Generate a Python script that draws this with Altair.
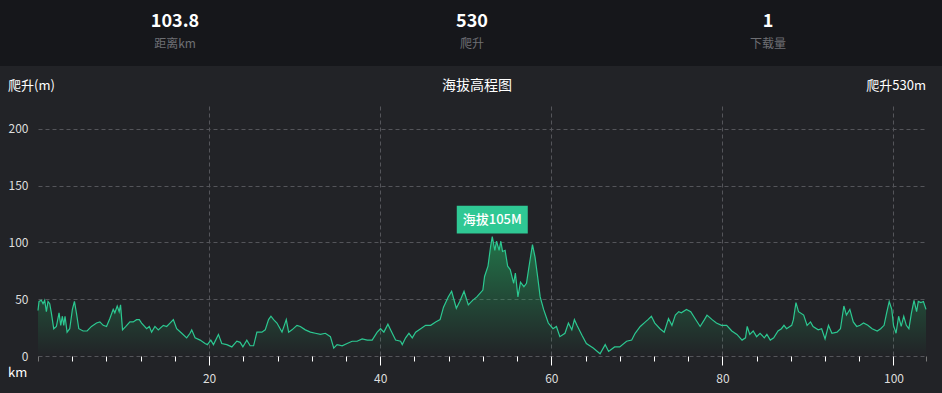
import altair as alt
import pandas as pd

# ---- data ----
km = [0.0, 0.12, 0.39, 0.59, 0.78, 0.98, 1.17, 1.37, 1.56, 1.84, 2.15, 2.46, 2.66, 2.85, 3.01, 3.16, 3.40, 3.71,
      4.02, 4.26, 4.49, 4.77, 5.27, 5.74, 6.25, 6.84, 7.23, 7.62, 8.01, 8.40, 8.79, 8.98, 9.26, 9.49, 9.65, 9.88,
      10.27, 10.74, 11.13, 11.52, 11.84, 12.11, 12.70, 13.01, 13.28, 13.67, 14.06, 14.65, 15.04, 15.43, 15.82,
      16.21, 16.80, 17.38, 17.77, 17.97, 18.36, 18.95, 19.53, 19.80, 20.20, 20.51, 21.09, 21.48, 22.07, 22.66,
      23.24, 23.63, 23.95, 24.41, 24.80, 25.20, 25.59, 26.17, 26.56, 26.95, 27.23, 27.54, 27.93, 28.52, 28.79,
      29.02, 29.30, 29.69, 30.27, 30.66, 31.25, 31.84, 32.42, 33.01, 33.59, 34.18, 34.57, 34.96, 35.55, 36.13,
      36.72, 37.30, 37.89, 38.48, 39.06, 39.65, 40.04, 40.43, 40.90, 41.21, 41.80, 42.38, 42.58, 42.97, 43.36,
      43.75, 44.14, 44.73, 45.31, 45.90, 46.48,
      47.0, 47.4, 47.95, 48.35, 48.9, 49.3, 49.8, 50.3, 50.8, 51.3, 52.0, 52.2, 52.6, 52.9, 53.1, 53.4, 53.6,
      53.9, 54.1, 54.3, 54.6, 54.9, 55.2, 55.6, 55.8, 56.1, 56.4, 56.8, 57.1, 57.4, 57.8, 58.1, 58.4, 58.7,
      59.1, 59.65, 60.2, 60.6, 61.0, 61.6, 62.0, 62.4, 62.7, 63.0, 63.6, 64.1, 64.9, 65.7, 66.3, 66.7, 67.4,
      68.0, 68.8, 69.4, 69.8, 70.4, 71.0, 71.3, 71.7, 72.1, 72.7, 73.2, 73.7, 74.1, 74.5, 74.9, 75.2, 75.8,
      76.3, 76.8, 77.4, 77.9, 78.2, 78.8, 79.3, 79.9, 80.5, 81.1, 81.7, 82.3, 82.7, 82.9, 83.2, 83.6, 84.0,
      84.4, 84.9, 85.2, 85.6, 86.0, 86.5, 86.9, 87.2, 87.5, 88.1, 88.3, 88.6, 88.9, 89.5, 89.9, 90.3, 90.6,
      91.2, 91.6, 92.0, 92.4, 92.8, 93.4, 93.8, 94.2, 94.5, 94.9, 95.3, 95.7, 96.1, 96.5, 97.0, 97.5, 98.1,
      98.5, 98.9, 99.2, 99.5, 99.8, 100.0, 100.3, 100.6, 100.9, 101.2, 101.5, 101.8, 102.1, 102.4, 102.7,
      102.9, 103.2, 103.5, 103.8]
elev = [40, 48, 49, 46, 49, 39, 48, 46, 38, 24, 26, 38, 27, 35, 27, 35, 21, 24,
        41, 48, 38, 24, 22, 22, 26, 29, 30, 27, 26, 33, 41, 38, 44, 39, 45, 23,
        26, 30, 30, 32, 32, 29, 24, 26, 21, 26, 23, 27, 26, 29, 32,
        24, 20, 16, 20, 23, 16, 14, 11, 10, 14, 10, 19, 11, 10, 8,
        13, 12, 8, 14, 9, 9, 21, 21, 23, 32, 35, 32, 29, 21, 27,
        32, 21, 23, 27, 26, 23, 21, 20, 19, 20, 17, 7, 10, 9, 11,
        13, 13, 15, 14, 14, 21, 24, 21, 28, 23, 14, 13, 10, 16, 20,
        16, 21, 24, 27, 27, 30,
        32, 43, 52, 57, 42, 48, 57, 45, 49, 52, 58, 70, 79, 96, 105, 93, 101,
        93, 101, 92, 93, 79, 76, 64, 73, 52, 65, 61, 64, 79, 98, 87, 70, 52,
        41, 29, 24, 26, 17, 20, 29, 23, 32, 27, 18, 11, 7, 2, 10, 4, 8,
        8, 13, 14, 20, 26, 30, 32, 35, 29, 24, 21, 33, 27, 36, 39, 38, 41,
        39, 33, 26, 32, 36, 32, 29, 27, 27, 22, 19, 14, 16, 26, 19, 22, 17,
        20, 16, 19, 14, 16, 22, 24, 27, 24, 27, 32, 47, 39, 36, 27, 30, 26,
        23, 24, 15, 27, 20, 21, 24, 44, 36, 41, 30, 26, 27, 29, 27, 24, 22,
        24, 27, 38, 48, 41, 27, 20, 35, 26, 35, 27, 24, 38, 49, 39,
        48, 47, 48, 41]

x_tick_values = [0, 4, 8, 12, 16, 20, 24, 28, 32, 36, 40, 44, 48, 52, 56, 60, 64, 68, 72, 76, 80, 84, 88, 92,
                 96, 100, 103.8]
y_tick_values = [0, 50, 100, 150, 200]
stat_values = ["103.8", "530", "1"]
stat_names = ["距离km", "爬升", "下载量"]
chart_title = "海拔高程图"
y_title = "爬升(m)"
x_title = "km"
climb = 530

BG = "#222327"
HEAD = "#16171b"
GREEN = "#2cc891"
BOX = "#2fc894"
GRID = "#54555a"
FONT = "Noto Sans CJK SC"

W, H = 888, 250
PL, PT = 38, 106

df = pd.DataFrame({"km": km, "elev": elev})
ip = max(range(len(elev)), key=lambda j: elev[j])
peak = pd.DataFrame({"km": [km[ip]], "elev": [elev[ip]], "label": [f"海拔{elev[ip]}M"]})

major = "datum.value % 20 === 0 && datum.value > 0"
edge = "datum.value === 0 || datum.value > 101"

xscale = alt.Scale(domain=[0, 103.8], nice=False, zero=False)
yscale = alt.Scale(domain=[0, 220], nice=False)

x_axis = alt.Axis(
    values=x_tick_values, tickCount=60, title=None, domain=False,
    labelExpr=f"({major}) ? datum.label : ''",
    labelOverlap=False, labelFlush=False, labelColor="#dddddd", labelFontSize=12, labelFont=FONT,
    labelPadding=8,
    tickSize={"condition": {"test": major, "value": 9}, "value": 5},
    tickColor={"condition": {"test": edge, "value": "#777777"}, "value": "#ffffff"},
    tickWidth=1,
    grid=True, gridColor=GRID, gridDash=[4, 3],
    gridOpacity={"condition": {"test": major, "value": 1}, "value": 0},
)
y_axis = alt.Axis(
    values=y_tick_values, tickCount=20, title=None, domain=False, ticks=False,
    labelColor="#dddddd", labelFontSize=12, labelFont=FONT, labelPadding=10,
    grid=True, gridColor=GRID, gridDash=[4, 3],
)

gradient = alt.Gradient(
    gradient="linear",
    stops=[alt.GradientStop(color="rgba(34,170,95,0.6)", offset=0),
           alt.GradientStop(color="rgba(34,170,95,0.0)", offset=1)],
    x1=0, x2=0, y1=0, y2=1,
)

base = alt.Chart(df)
area = base.mark_area(fill=gradient).encode(
    x=alt.X("km:Q", scale=xscale, axis=x_axis),
    y=alt.Y("elev:Q", scale=yscale, axis=y_axis),
)
line = base.mark_line(color=GREEN, strokeWidth=1.2).encode(x="km:Q", y="elev:Q")

pk = alt.Chart(peak)
box = pk.mark_point(shape="M-1,-0.39H1V0.39H-1Z", size=5041, filled=True, fill=BOX,
                    opacity=1, strokeWidth=0, yOffset=-17).encode(x="km:Q", y="elev:Q")
box_text = pk.mark_text(color="#ffffff", fontSize=13, font=FONT, fontWeight=500, baseline="middle",
                        yOffset=-17).encode(x="km:Q", y="elev:Q", text="label:N")

one = alt.Chart(pd.DataFrame({"a": [0]}))
header = one.mark_rect(color=HEAD).encode(
    x=alt.value(-PL), x2=alt.value(942 - PL), y=alt.value(-PT), y2=alt.value(66 - PT))

layers = [area, line, box, box_text, header]
centers = [175, 472, 768]
for cx, v, n in zip(centers, stat_values, stat_names):
    layers.append(one.mark_text(text=v, color="#ffffff", fontSize=18, fontWeight="bold", font=FONT,
                                baseline="middle", align="center").encode(
        x=alt.value(cx - PL), y=alt.value(22 - PT)))
    layers.append(one.mark_text(text=n, color="#6e6f74", fontSize=12, font=FONT,
                                baseline="middle", align="center").encode(
        x=alt.value(cx - PL), y=alt.value(44 - PT)))

layers.append(one.mark_text(text=chart_title, color="#ffffff", fontSize=14, font=FONT,
                            baseline="middle", align="center").encode(
    x=alt.value(477 - PL), y=alt.value(86 - PT)))
layers.append(one.mark_text(text=y_title, color="#ffffff", fontSize=13, font=FONT,
                            baseline="middle", align="left").encode(
    x=alt.value(8 - PL), y=alt.value(86 - PT)))
layers.append(one.mark_text(text=f"爬升{climb}m", color="#ffffff", fontSize=13, font=FONT,
                            baseline="middle", align="right").encode(
    x=alt.value(926 - PL), y=alt.value(86 - PT)))
layers.append(one.mark_text(text=x_title, color="#ffffff", fontSize=13, font=FONT,
                            baseline="middle", align="left").encode(
    x=alt.value(8 - PL), y=alt.value(373 - PT)))

chart = alt.layer(*layers).properties(
    width=W, height=H,
    padding={"left": PL, "top": PT, "right": 942 - PL - W, "bottom": 393 - PT - H},
    autosize=alt.AutoSizeParams(type="none"),
    background=BG,
).configure_view(stroke=None)

chart.save("out.html", embed_options={"renderer": "svg", "actions": False})
